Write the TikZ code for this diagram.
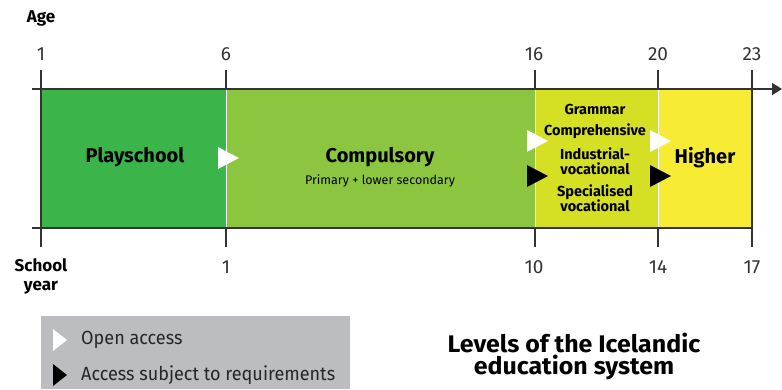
\documentclass[tikz,border=0pt]{standalone}
\usepackage{fontspec}
\setmainfont{Fira Sans}
\newfontfamily\condfont[FakeStretch=0.95]{Fira Sans}
\newfontfamily\titlefont[FakeStretch=1.04]{Fira Sans}
\usetikzlibrary{arrows.meta}
\definecolor{cplay}{HTML}{3BB54A}
\definecolor{ccomp}{HTML}{8CC540}
\definecolor{csec}{HTML}{D5DF24}
\definecolor{chigh}{HTML}{F7EB34}
\definecolor{cline}{HTML}{333333}
\definecolor{clegend}{HTML}{BCBDC0}
\tikzset{
  axisline/.style={draw=cline, line width=1.6pt},
  tickline/.style={draw=cline, line width=1.4pt},
  sepline/.style={draw=white, line width=1pt},
  num/.style={font=\fontsize{19}{19}\selectfont, text=cline, inner sep=0pt},
  lvl/.style={font=\bfseries\fontsize{20}{20}\selectfont, inner sep=0pt},
  sub/.style={font=\bfseries\fontsize{14.5}{15}\selectfont, inner sep=0pt, align=center},
  small/.style={font=\fontsize{12.5}{12.5}\selectfont, inner sep=0pt},
  legtxt/.style={font=\condfont\fontsize{19}{19}\selectfont, text=black!85, inner sep=0pt, anchor=west},
  opentri/.style={fill=white},
  reqtri/.style={fill=black},
}
\begin{document}
\begin{tikzpicture}[x=1pt,y=-1pt]
\useasboundingbox (0,0) rectangle (782,389);
% regions
\fill[cplay] (41,89) rectangle (226,228);
\fill[ccomp] (226,89) rectangle (535,228);
\fill[csec] (535,89) rectangle (658,228);
\fill[chigh] (658,89) rectangle (752,228);
\draw[sepline] (226,90) -- (226,227);
\draw[sepline] (535,90) -- (535,227);
\draw[sepline] (658,90) -- (658,227);
% axis lines
\coordinate (axL) at (32,89);
\coordinate (axR) at (782,89);
\coordinate (bxL) at (32,228);
\coordinate (bxR) at (752,228);
\draw[axisline, -{Triangle[length=10pt,width=12pt]}] (axL) -- (axR);
\draw[axisline] (bxL) -- (bxR);
% ticks
\foreach \x/\n in {41/a,226/b,535/c,658/d,752/e}{
  \coordinate (t\n) at (\x,70);
  \coordinate (u\n) at (\x,89);
  \draw[tickline] (t\n) -- (u\n);
  \coordinate (v\n) at (\x,228);
  \coordinate (w\n) at (\x,247);
  \draw[tickline] (v\n) -- (w\n);
}
\draw[tickline] (ua) -- (va);
\draw[tickline] (ue) -- (ve);
% labels
\node[font=\bfseries\fontsize{17}{17}\selectfont, inner sep=0pt] (age) at (41,18) {Age};
\node[num] (a1) at (41,54) {1};
\node[num] (a6) at (226,54) {6};
\node[num] (a16) at (534,54) {16};
\node[num] (a20) at (658,54) {20};
\node[num] (a23) at (752,54) {23};
\node[font=\bfseries\fontsize{17}{19}\selectfont, inner sep=0pt, align=center] (sy) at (41,276) {School\\year};
\node[num] (s1) at (226,267) {1};
\node[num] (s10) at (534,267) {10};
\node[num] (s14) at (658,267) {14};
\node[num] (s17) at (752,267) {17};
\node[lvl] (play) at (135,157) {Playschool};
\node[lvl] (comp) at (380,157) {Compulsory};
\node[small] (prim) at (380,181) {Primary + lower secondary};
\node[sub] (gram) at (595,109) {Grammar};
\node[sub] (compr) at (595,131) {Comprehensive};
\node[sub] (ind) at (595,161) {Industrial-\\vocational};
\node[sub] (spec) at (595,198) {Specialised\\vocational};
\node[lvl] (high) at (705,158) {Higher};
% access triangles
\fill[opentri] (218,147) -- (239,158) -- (218,169) -- cycle;
\fill[opentri] (527,130) -- (548,141) -- (527,152) -- cycle;
\fill[reqtri] (527,165) -- (548,176) -- (527,187) -- cycle;
\fill[opentri] (650,130) -- (671,141) -- (650,152) -- cycle;
\fill[reqtri] (650,165) -- (671,176) -- (650,187) -- cycle;
% legend
\fill[clegend] (41,316) rectangle (350,389);
\fill[opentri] (53,329) -- (67,340) -- (53,351) -- cycle;
\fill[reqtri] (53,364) -- (67,375) -- (53,386) -- cycle;
\node[legtxt] (lo) at (81,340) {Open access};
\node[legtxt] (lr) at (81,375) {Access subject to requirements};
% title
\node[font=\titlefont\bfseries\fontsize{24}{22}\selectfont, align=center, inner sep=0pt] (title) at (574,356) {Levels of the Icelandic\\education system};
\end{tikzpicture}
\end{document}
